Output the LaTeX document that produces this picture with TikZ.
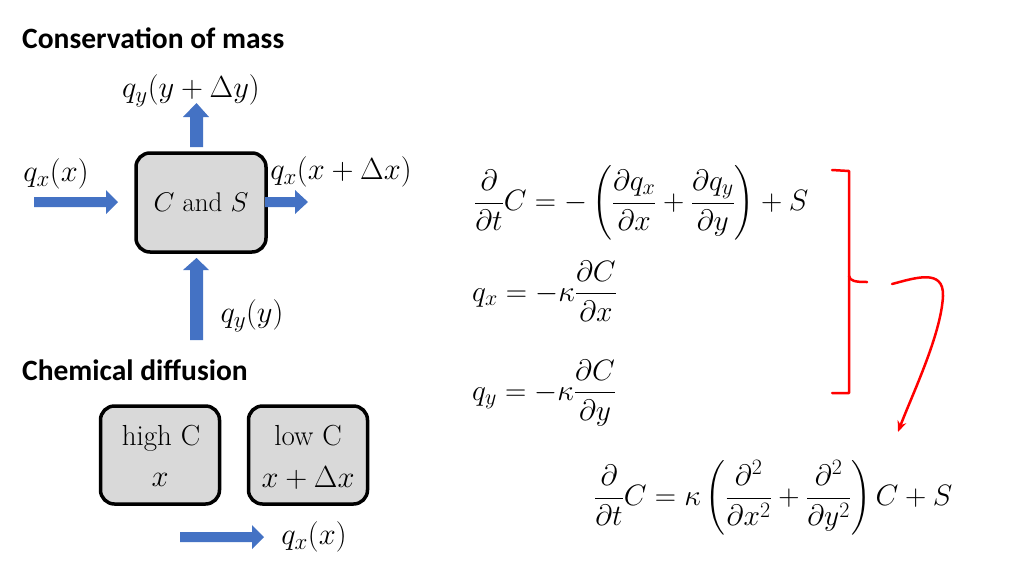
\RequirePackage{fix-cm}
\documentclass[tikz,border=0pt]{standalone}
\usepackage{fontspec}
\usepackage{amsmath}
\DeclareMathSizes{30.5}{30.5}{23}{17}
\DeclareMathSizes{29.5}{29.5}{22}{16}
\DeclareMathSizes{27}{27}{20}{15}
\newfontfamily\headfont{Carlito}
\usetikzlibrary{arrows.meta}
\definecolor{flowblue}{HTML}{4472C4}
\definecolor{boxgray}{HTML}{D9D9D9}
\begin{document}
\begin{tikzpicture}[x=1pt,y=-1pt,
  heading/.style={anchor=west,inner sep=0pt,font=\headfont\bfseries\fontsize{29.5}{34}\selectfont},
  cell/.style={draw=black,line width=3.5pt,fill=boxgray,rounded corners=14pt,inner sep=0pt},
  lbl/.style={inner sep=0pt,font=\fontsize{30.5}{34}\selectfont},
  eqn/.style={anchor=west,inner sep=0pt,font=\fontsize{29.5}{34}\selectfont},
  flow/.style={fill=flowblue,draw=none},
  redline/.style={draw=red,line width=2.5pt,line cap=round,line join=round}]
\useasboundingbox (0,0) rectangle (1024,576);
\fill[white] (0,0) rectangle (1024,576);

% headings
\node[heading] (h1) at (22,38) {Conservation of mass};
\node[heading] (h2) at (22,370) {Chemical diffusion};

% control volume
\node[cell,minimum width=130pt,minimum height=99pt] (cv) at (201,202.5) {};
\node[lbl,font=\fontsize{27}{32}\selectfont] (cvt) at (cv.center) {$C$ and $S$};

% block arrows
\fill[flow] (190,147) -- (190,117) -- (183,117) -- (196.5,103) -- (209,117) -- (203,117) -- (203,147) -- cycle;
\fill[flow] (34,197) -- (106,197) -- (106,190) -- (118,202) -- (106,214) -- (106,207) -- (34,207) -- cycle;
\fill[flow] (265,197) -- (295,197) -- (295,190) -- (308,202) -- (295,214) -- (295,207) -- (265,207) -- cycle;
\fill[flow] (190,340) -- (190,270) -- (183,270) -- (196.5,258) -- (209,270) -- (203,270) -- (203,340) -- cycle;

\node[lbl] (qyt) at (191,91) {$q_y(y+\Delta y)$};
\node[lbl] (qxl) at (56,174) {$q_x(x)$};
\node[lbl] (qxr) at (341,172) {$q_x(x+\Delta x)$};
\node[lbl] (qyb) at (252,316) {$q_y(y)$};

% chemical diffusion boxes
\node[cell,minimum width=119pt,minimum height=98pt] (hi) at (160,455) {};
\node[cell,minimum width=119pt,minimum height=98pt] (lo) at (308,455) {};
\node[lbl,font=\fontsize{29}{34}\selectfont] (hit) at (161,438) {high C};
\node[lbl] (hix) at (160,480) {$x$};
\node[lbl,font=\fontsize{29}{34}\selectfont] (lot) at (308,436) {low C};
\node[lbl] (lox) at (308,478) {$x+\Delta x$};
\fill[flow] (180,532) -- (252,532) -- (252,525) -- (264,537) -- (252,549) -- (252,542) -- (180,542) -- cycle;
\node[lbl] (qxd) at (314,537) {$q_x(x)$};

% equations
\node[eqn] (e1) at (474,203) {$\displaystyle \frac{\partial}{\partial t}C=-\left(\frac{\partial q_x}{\partial x}+\frac{\partial q_y}{\partial y}\right)+S$};
\node[eqn] (e2) at (472,291) {$\displaystyle q_x=-\kappa\frac{\partial C}{\partial x}$};
\node[eqn] (e3) at (472,393) {$\displaystyle q_y=-\kappa\frac{\partial C}{\partial y}$};
\node[eqn] (e4) at (594,498) {$\displaystyle \frac{\partial}{\partial t}C=\kappa\left(\frac{\partial^2}{\partial x^2}+\frac{\partial^2}{\partial y^2}\right)C+S$};

% red bracket and arrow
\coordinate (bt) at (832,170);
\coordinate (bb) at (832,393);
\coordinate (bm) at (867,282);
\coordinate (as) at (892,284);
\coordinate (ae) at (898,432);
\draw[redline] (bt) -- (849,171) -- (849,393) -- (bb);
\draw[redline] (849,276) .. controls (850,281) and (855,282) .. (bm);
\draw[redline,-{Stealth[length=11pt,width=9pt]}] (as) .. controls (915,278) and (944,268) .. (943,296) .. controls (941,335) and (912,395) .. (ae);
\end{tikzpicture}
\end{document}
